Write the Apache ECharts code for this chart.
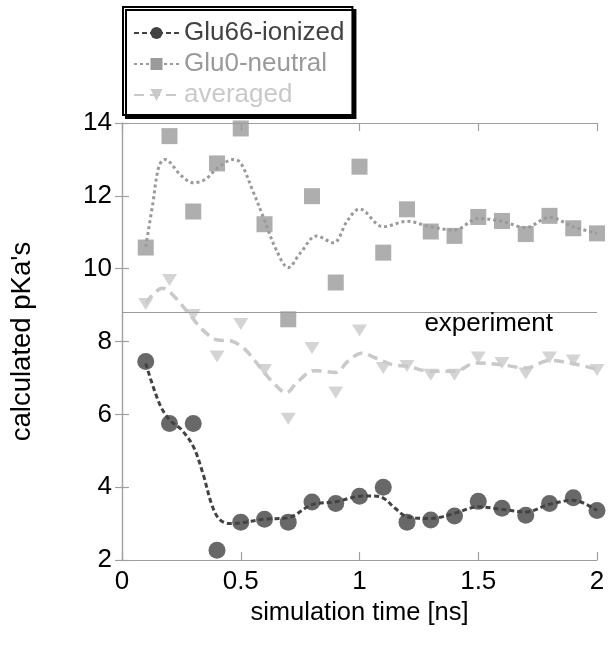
<!DOCTYPE html>
<html>
<head>
<meta charset="utf-8">
<script src="https://cdn.jsdelivr.net/npm/echarts@6/dist/echarts.min.js"></script>
<style>
html,body{margin:0;padding:0;background:#fff;}
#chart{width:612px;height:645px;}
</style>
</head>
<body>
<div id="chart"></div>
<script>
// ---- data ----
var times = [0.1,0.2,0.3,0.4,0.5,0.6,0.7,0.8,0.9,1.0,1.1,1.2,1.3,1.4,1.5,1.6,1.7,1.8,1.9,2.0];
var ionized = [7.45,5.75,5.75,2.27,3.04,3.12,3.04,3.59,3.55,3.75,4.0,3.04,3.1,3.21,3.61,3.42,3.23,3.55,3.71,3.36];
var neutral = [10.58,13.64,11.57,12.89,13.85,11.22,8.61,11.99,9.62,12.8,10.44,11.63,11.02,10.9,11.42,11.31,10.95,11.45,11.11,10.97];
var averaged = [9.03,9.69,8.73,7.59,8.48,7.22,5.88,7.82,6.6,8.3,7.27,7.33,7.09,7.09,7.56,7.41,7.12,7.56,7.48,7.22];

var ionFitX = [0.1,0.157,0.2,0.25,0.3,0.34,0.38,0.41,0.45,0.5,0.6,0.7,0.8,0.9,1.0,1.05,1.1,1.15,1.2,1.3,1.4,1.5,1.6,1.7,1.8,1.9,2.0];
var ionFitY = [7.4,6.3,5.85,5.58,5.12,4.39,3.48,3.12,3.0,3.02,3.12,3.16,3.52,3.6,3.75,3.76,3.7,3.42,3.19,3.14,3.28,3.46,3.39,3.32,3.53,3.64,3.36];
var neutFitX = [0.1,0.13,0.155,0.18,0.25,0.3,0.35,0.4,0.47,0.5,0.55,0.6,0.65,0.7,0.75,0.82,0.89,0.95,1.0,1.1,1.2,1.3,1.4,1.5,1.6,1.7,1.8,1.9,2.0];
var neutFitY = [10.6,11.8,12.8,13.0,12.55,12.36,12.45,12.75,13.0,12.9,12.15,11.33,10.51,10.03,10.42,10.9,10.71,11.33,11.64,11.15,11.3,11.15,11.06,11.38,11.3,11.13,11.41,11.15,10.97];
var avgFitX = [0.1,0.136,0.17,0.214,0.297,0.34,0.396,0.466,0.52,0.59,0.645,0.69,0.74,0.81,0.9,0.95,1.01,1.07,1.14,1.2,1.3,1.4,1.49,1.6,1.7,1.8,1.9,2.0];
var avgFitY = [9.05,9.33,9.46,9.28,8.64,8.32,8.05,8.0,7.77,7.22,6.81,6.59,6.9,7.2,7.15,7.45,7.68,7.54,7.36,7.32,7.18,7.18,7.41,7.36,7.27,7.48,7.39,7.24];

var experimentValue = 8.8;
var seriesNames = ['Glu66-ionized','Glu0-neutral','averaged'];
var xTicks = [0,0.5,1,1.5,2];
var yTicks = [2,4,6,8,10,12,14];

function pairs(xs, ys){ return xs.map(function(x,i){ return [x, ys[i]]; }); }

var cDark = '#424242', cMid = '#9a9a9a', cLight = '#c9c9c9';
var FONT = '"Liberation Sans", Arial, sans-serif';

var chart = echarts.init(document.getElementById('chart'), null, {renderer:'canvas'});
var axisLineStyle = {color:'#a0a0a0', width:1.2};
chart.setOption({
  animation:false,
  backgroundColor:'#fff',
  textStyle:{fontFamily:FONT},
  grid:{left:122, right:15, top:123, bottom:85, containLabel:false},
  legend:{
    left:123, top:7, orient:'vertical',
    padding:[13,8,7,10], itemGap:5, itemWidth:45, itemHeight:15,
    backgroundColor:'#fff', borderColor:'#000', borderWidth:2,
    shadowColor:'#000', shadowBlur:0, shadowOffsetX:3, shadowOffsetY:3,
    textStyle:{fontSize:26, fontFamily:FONT},
    data:[
      {name:seriesNames[0], textStyle:{color:cDark}},
      {name:seriesNames[1], textStyle:{color:cMid}},
      {name:seriesNames[2], textStyle:{color:cLight}}
    ]
  },
  xAxis:[{
    type:'value', min:0, max:2, interval:0.5,
    name:'simulation time [ns]', nameLocation:'middle', nameGap:37,
    nameTextStyle:{fontSize:25.5, color:'#000', fontFamily:FONT},
    axisLine:{show:true, lineStyle:axisLineStyle},
    axisTick:{show:true, inside:true, length:8, lineStyle:axisLineStyle},
    axisLabel:{fontSize:26, color:'#000', margin:9, fontFamily:FONT,
      formatter:function(v){ return xTicks.indexOf(v)>=0 ? String(v) : ''; }},
    splitLine:{show:false}
  },{
    type:'value', min:0, max:2, interval:0.5, position:'top',
    axisLine:{show:true, lineStyle:axisLineStyle},
    axisTick:{show:true, inside:true, length:8, lineStyle:axisLineStyle},
    axisLabel:{show:false}, splitLine:{show:false}
  }],
  yAxis:[{
    type:'value', min:2, max:14, interval:2,
    name:"calculated pKa's", nameLocation:'middle', nameGap:86, nameRotate:90,
    nameTextStyle:{fontSize:27.5, color:'#000', fontFamily:FONT},
    axisLine:{show:true, lineStyle:axisLineStyle},
    axisTick:{show:true, inside:true, length:7, lineStyle:axisLineStyle},
    axisLabel:{fontSize:26, color:'#000', margin:10, fontFamily:FONT,
      formatter:function(v){ return yTicks.indexOf(v)>=0 ? String(v) : ''; }},
    splitLine:{show:false}
  },{
    type:'value', min:2, max:14, interval:2, position:'right',
    axisLine:{show:true, lineStyle:axisLineStyle},
    axisTick:{show:true, inside:true, length:7, lineStyle:axisLineStyle},
    axisLabel:{show:false}, splitLine:{show:false}
  }],
  series:[
    {
      name:seriesNames[2], type:'line', smooth:0.35, showSymbol:false,
      symbol:'triangle', symbolRotate:180, symbolSize:13,
      data:pairs(avgFitX, avgFitY),
      itemStyle:{color:cLight},
      lineStyle:{color:cLight, width:3.5, type:[10,6]},
      z:2
    },
    {
      name:'averaged-points', type:'scatter', symbol:'triangle', symbolRotate:180, symbolSize:[15,12],
      data:pairs(times, averaged), itemStyle:{color:cLight}, z:3,
      markLine:{
        silent:true, symbol:'none', animation:false,
        lineStyle:{color:'#9a9a9a', type:'solid', width:1.2},
        label:{show:true, formatter:'experiment', position:'insideEndBottom',
          color:'#000', fontSize:26, fontFamily:FONT, distance:[44,-2]},
        data:[{yAxis:experimentValue}]
      }
    },
    {
      name:seriesNames[1], type:'line', smooth:0.35, showSymbol:false,
      symbol:'rect', symbolSize:14,
      data:pairs(neutFitX, neutFitY),
      itemStyle:{color:cMid},
      lineStyle:{color:cMid, width:3, type:[3,3]},
      z:4
    },
    {
      name:'neutral-points', type:'scatter', symbol:'rect', symbolSize:16,
      data:pairs(times, neutral), itemStyle:{color:cMid}, z:5
    },
    {
      name:seriesNames[0], type:'line', smooth:0.35, showSymbol:false,
      symbol:'circle', symbolSize:15,
      data:pairs(ionFitX, ionFitY),
      itemStyle:{color:cDark},
      lineStyle:{color:cDark, width:3, type:[5,3]},
      z:6
    },
    {
      name:'ionized-points', type:'scatter', symbol:'circle', symbolSize:17,
      data:pairs(times, ionized), itemStyle:{color:cDark}, z:7
    }
  ]
});
</script>
</body>
</html>
